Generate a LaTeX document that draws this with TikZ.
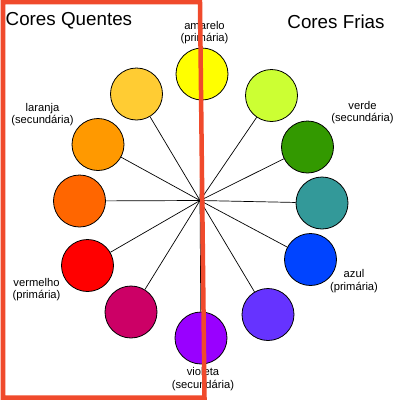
\documentclass[tikz,border=0pt]{standalone}
\usepackage{fontspec}
\setmainfont{Liberation Sans}
\definecolor{cYel}{HTML}{FFFF00}
\definecolor{cYG}{HTML}{CCFF33}
\definecolor{cGreen}{HTML}{339900}
\definecolor{cTeal}{HTML}{339999}
\definecolor{cBlue}{HTML}{0044FF}
\definecolor{cBV}{HTML}{6633FF}
\definecolor{cViolet}{HTML}{9900FF}
\definecolor{cMag}{HTML}{CC0066}
\definecolor{cRed}{HTML}{FF0000}
\definecolor{cDOr}{HTML}{FF6600}
\definecolor{cOr}{HTML}{FF9900}
\definecolor{cLOr}{HTML}{FFCC33}
\definecolor{frameRed}{HTML}{F04A2C}
\tikzset{
  disc/.style={circle, draw=black, line width=0.8pt, minimum size=52pt, inner sep=0pt},
  spoke/.style={draw=black, line width=0.7pt},
  lbl/.style={anchor=base, inner sep=0pt, font=\fontsize{11.2}{13}\selectfont},
  title/.style={inner sep=0pt, font=\fontsize{18.8}{22}\selectfont},
  frame/.style={draw=frameRed, line width=4.5pt, line join=miter}
}
\begin{document}
\begin{tikzpicture}[x=1pt,y=-1pt]
\useasboundingbox[fill=white] (0,0) rectangle (400,400);
\coordinate (hub) at (200,200.5);
\node[disc, fill=cYel]    (yel)  at (202,74) {};
\node[disc, fill=cYG]     (yg)   at (271.5,95.5) {};
\node[disc, fill=cGreen]  (grn)  at (307.5,147) {};
\node[disc, fill=cTeal]   (teal) at (322,203) {};
\node[disc, fill=cBlue]   (blu)  at (310.5,259.5) {};
\node[disc, fill=cBV]     (bv)   at (268,314.5) {};
\node[disc, fill=cViolet] (vio)  at (201,338) {};
\node[disc, fill=cMag]    (mag)  at (131,312) {};
\node[disc, fill=cRed]    (red)  at (87.5,265.5) {};
\node[disc, fill=cDOr]    (dor)  at (79.5,201) {};
\node[disc, fill=cOr]     (ora)  at (98,144.5) {};
\node[disc, fill=cLOr]    (lor)  at (136.5,94) {};
\foreach \n in {yel,yg,grn,teal,blu,bv,vio,mag,red,dor,ora,lor}
  \draw[spoke] (hub) -- (\n);
% labels
\node[lbl] (amA) at (204.5,29.3) {amarelo};
\node[lbl] (amB) at (204.5,41) {(primária)};
\node[lbl] (laA) at (42.5,111) {laranja};
\node[lbl] (laB) at (42.5,123.5) {(secundária)};
\node[lbl] (veA) at (362.5,109) {verde};
\node[lbl] (veB) at (362.5,121.5) {(secundária)};
\node[lbl] (vmA) at (36.5,286) {vermelho};
\node[lbl] (vmB) at (36.5,298.5) {(primária)};
\node[lbl] (azA) at (354,277.5) {azul};
\node[lbl] (azB) at (354,290) {(primária)};
\node[lbl] (viA) at (203,375.5) {violeta};
\node[lbl] (viB) at (203,388) {(secundária)};
% titles
\node[title, anchor=base west] (quentes) at (5.5,25) {Cores Quentes};
\node[title, anchor=base] (frias) at (336,28) {Cores Frias};
% frame
\draw[frame] (3,2.2) -- (200,2.2) -- (204.5,397.5) -- (3,397.5) -- cycle;
\end{tikzpicture}
\end{document}
